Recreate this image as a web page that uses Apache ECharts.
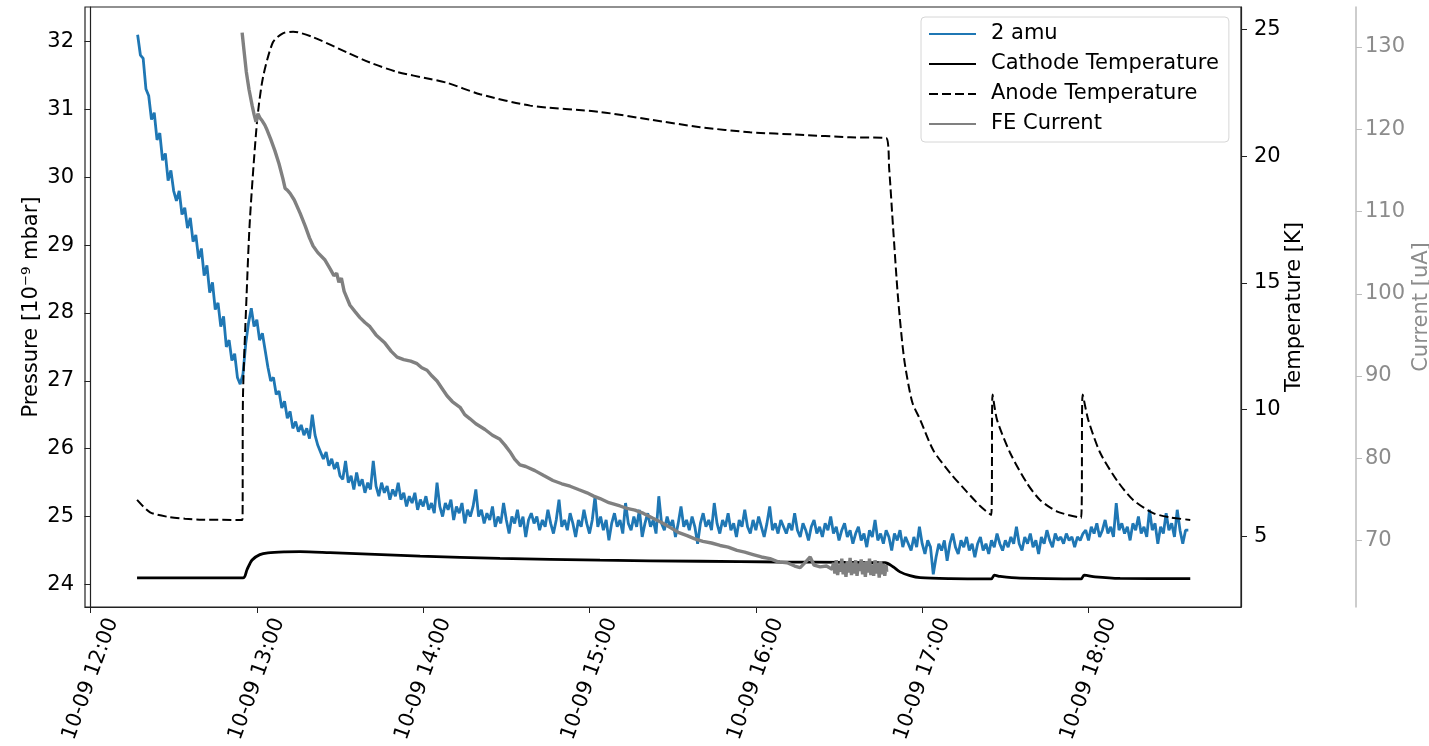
<!DOCTYPE html>
<html><head><meta charset="utf-8">
<script src="https://cdn.jsdelivr.net/npm/echarts@6/dist/echarts.min.js"></script>
<style>html,body{margin:0;padding:0;background:#fff}#c{width:1429px;height:746px}</style>
</head><body><div id="c"></div>
<script>
// ---- data (time in minutes after 10-09 12:00) ----
const dateLabel = '10-09';
const xTickHours = [12, 13, 14, 15, 16, 17, 18];
const pressureTicks = [24, 25, 26, 27, 28, 29, 30, 31, 32];
const tempTicks = [5, 10, 15, 20, 25];
const currentTicks = [70, 80, 90, 100, 110, 120, 130];

// 2 amu pressure [1e-9 mbar], one reading per minute starting at minute 17
const amuStartMinute = 17;
const amuPressure = [
 32.1,31.8,31.75,31.3,31.2,30.85,30.95,30.55,30.65,30.25,30.35,29.95,30.1,29.8,29.65,29.8,29.45,29.55,29.25,29.4,
 29.05,29.15,28.8,28.95,28.55,28.7,28.3,28.45,28.05,28.15,27.8,27.95,27.5,27.6,27.3,27.4,27.05,26.95,
 27.1,27.55,27.85,28.07,27.8,27.9,27.6,27.7,27.45,27.2,27.0,27.05,26.8,26.85,26.6,26.7,26.45,26.55,26.3,26.4,
 26.25,26.35,26.2,26.3,26.15,26.5,26.2,26.05,25.95,25.85,25.95,25.75,25.85,25.7,25.8,25.6,
 25.55,25.82,25.5,25.6,25.4,25.65,25.45,25.55,25.35,25.5,
 25.4,25.82,25.45,25.3,25.5,25.35,25.45,25.25,25.4,25.3,25.5,25.25,25.35,25.15,25.3,25.2,25.35,25.1,25.25,25.15,
 25.3,25.1,25.2,25.05,25.5,25.15,25.0,25.2,25.1,25.25,24.95,25.15,25.05,25.2,24.9,25.1,25.0,25.15,25.4,25.0,
 25.1,24.9,25.05,24.95,25.15,24.85,25.0,24.9,25.2,24.95,24.75,25.0,24.9,25.1,24.85,25.0,24.7,24.95,25.05,24.9,
 25.0,24.8,24.95,24.85,25.1,24.9,24.75,24.95,25.25,24.85,
 24.95,24.8,25.05,24.9,24.7,24.95,24.85,25.1,24.9,24.75,
 24.95,25.3,24.85,25.0,24.8,24.95,24.65,24.9,25.05,24.85,
 24.95,24.75,25.2,24.9,24.8,25.0,24.85,25.1,24.7,24.9,
 25.05,24.85,24.95,24.75,25.3,24.9,24.8,25.0,24.85,24.95,
 24.7,24.9,25.15,24.85,24.95,24.8,25.0,24.85,24.6,24.9,
 25.05,24.85,24.95,24.8,25.2,24.9,24.75,24.95,24.85,25.05,
 24.8,24.9,24.7,24.95,24.85,25.1,24.85,24.75,24.95,24.8,
 25.0,24.85,24.7,24.9,25.15,24.8,24.9,24.75,24.95,24.85,
 24.75,24.9,24.8,25.05,24.8,24.7,24.9,24.8,24.65,24.85,24.95,24.75,24.85,24.7,24.9,24.8,25.0,24.75,24.85,24.65,
 24.8,24.9,24.7,24.8,24.6,
 24.75,24.85,24.65,24.75,24.55,24.8,24.7,24.95,24.65,24.75,24.6,24.8,24.7,24.5,24.75,24.65,24.8,24.55,24.7,24.6,
 24.5,24.7,24.55,24.85,24.6,24.45,24.65,24.55,24.15,24.4,24.6,24.5,24.65,24.35,24.6,24.75,24.55,24.45,24.65,24.55,
 24.7,24.5,24.6,24.4,24.6,24.7,24.5,24.6,24.45,24.65,24.55,24.75,24.6,24.5,24.65,
 24.55,24.7,24.6,24.85,24.6,24.5,24.7,24.6,24.75,24.55,24.65,24.45,24.7,24.6,24.8,24.65,24.55,24.75,24.65,24.7,
 24.6,24.75,24.65,24.7,24.55,24.7,24.65,
 24.75,24.8,24.65,24.85,24.75,24.9,24.7,24.8,24.95,24.75,24.85,24.7,25.2,24.8,24.9,24.75,24.85,24.65,24.9,24.8,
 25.0,24.75,24.85,24.7,25.1,24.8,24.9,24.6,24.85,24.75,25.05,24.8,24.9,24.7,25.1,24.8,24.6,24.8,24.8
];

// Cathode temperature [K]: [minute, value]
const cathodeTemp = [
 [16.8,3.36],[55.0,3.36],[56.5,3.7],[58.3,4.07],[61.1,4.28],[64.0,4.35],[70.2,4.39],[75.6,4.40],[86.4,4.36],
 [118.9,4.22],[147.7,4.13],[183.8,4.06],[219.9,4.02],[248.7,3.99],[286.6,3.96],[289.5,3.8],[292.0,3.6],
 [295.6,3.45],[299.3,3.37],[310.1,3.33],[324.9,3.32],[326.0,3.47],[328.1,3.42],[335.3,3.35],[357.3,3.32],
 [358.4,3.47],[362.4,3.40],[371.4,3.34],[396.7,3.33]
];

// Anode temperature [K]: [minute, value]
const anodeTemp = [
 [16.8,6.44],[21.5,5.95],[28.0,5.77],[34.1,5.70],[40.2,5.66],[54.8,5.65],[55.0,10.5],[56.3,14.5],[57.5,17.5],
 [60.1,21.4],[62.2,23.1],[65.8,24.5],[69.4,24.85],[73.1,24.92],[80.3,24.7],[92.5,24.1],[100.8,23.7],
 [110.6,23.33],[122.5,23.05],[128.6,22.9],[140.5,22.45],[158.6,22.0],[183.8,21.75],[201.8,21.45],
 [219.9,21.15],[237.9,20.95],[255.9,20.85],[274.0,20.75],[287.0,20.72],[288.1,19.5],[289.5,17.2],
 [291.3,14.4],[293.5,12.0],[296.4,10.3],[299.3,9.6],[304.0,8.4],[310.1,7.5],[316.2,6.75],[320.9,6.2],
 [324.9,5.84],[325.4,10.6],[327.0,9.6],[331.7,8.3],[337.8,7.1],[342.5,6.44],[348.7,5.98],[357.3,5.73],
 [357.9,10.6],[359.9,9.6],[364.2,8.3],[370.3,7.2],[376.1,6.44],[383.3,5.92],[389.5,5.75],[396.7,5.65]
];

// FE current [uA]: [minute, value]
const feCurrent = [
 [54.7,131.75],[55.3,129.8],[56.2,127.0],[57.2,124.8],[58.3,122.9],[59.0,121.8],[59.7,120.9],[60.4,121.9],
 [61.1,121.4],[62.0,121.0],[62.9,120.5],[63.7,119.9],[65.0,118.8],[66.5,117.4],[68.0,115.8],[69.4,114.0],
 [70.2,112.8],[71.0,112.6],[72.0,112.2],[73.5,111.4],[75.6,109.8],[77.5,108.2],[79.0,106.8],[80.3,105.8],
 [82.0,105.0],[84.6,104.1],[86.5,103.0],[87.8,102.2],[88.8,102.5],[89.6,101.4],[90.5,101.9],[91.5,100.3],
 [93.6,98.6],[95.5,97.8],[97.2,97.1],[99.0,96.5],[100.8,96.0],[103.0,95.0],[106.2,94.0],[108.5,93.0],
 [110.6,92.3],[113.0,92.0],[115.5,91.8],[117.8,91.5],[119.5,91.0],[121.4,90.7],[123.2,90.0],[125.0,89.4],
 [127.0,88.4],[128.6,87.6],[130.5,86.9],[133.3,86.2],[135.0,85.3],[136.9,84.8],[139.0,84.2],[142.3,83.5],
 [145.0,82.8],[147.7,82.3],[149.5,81.6],[151.3,80.8],[153.0,79.9],[154.9,79.2],[157.0,79.0],[160.3,78.5],
 [163.5,77.9],[166.8,77.3],[170.0,76.9],[173.0,76.6],[176.0,76.2],[179.1,75.8],[181.5,75.4],[183.8,75.1],
 [187.0,74.6],[191.0,74.2],[193.5,73.9],[196.4,73.7],[199.5,73.3],[202.9,72.7],[206.0,72.2],[209.0,71.6],
 [212.0,71.0],[215.2,70.6],[218.0,70.2],[220.9,69.9],[224.0,69.7],[227.1,69.4],[230.0,69.2],[233.2,68.8],
 [236.0,68.6],[239.0,68.3],[242.0,68.0],[245.1,67.8],[248.0,67.4],[251.3,67.3],[254.0,66.9],[256.0,66.7],
 [258.0,67.4],[259.6,68.0],[261.0,67.0],[263.2,66.8],[265.5,66.9],[267.5,66.5],
 [268.0,67.3],[268.5,66.0],[269.0,67.6],[269.5,65.8],[270.0,67.1],[270.5,66.2],[271.0,67.8],[271.5,65.9],
 [272.0,67.2],[272.5,65.6],[273.0,67.5],[273.5,66.1],[274.0,67.9],[274.5,65.8],[275.0,67.3],[275.5,66.0],
 [276.0,67.6],[276.5,65.7],[277.0,67.2],[277.5,66.3],[278.0,67.7],[278.5,65.9],[279.0,67.4],[279.5,65.6],
 [280.0,67.5],[280.5,66.1],[281.0,67.8],[281.5,65.8],[282.0,67.1],[282.5,65.7],[283.0,67.6],[283.5,66.0],
 [284.0,67.3],[284.5,65.5],[285.0,67.5],[285.5,65.9],[286.0,67.2],[286.5,65.7],[287.0,67.0],[287.2,66.2]
];

// ---- build ----
const FONT = 'DejaVu Sans';
const FS = 21;
const pad = n => (n < 10 ? '0' : '') + n;
const amuData = amuPressure.map((v, i) => [amuStartMinute + i, v]);
const xTicks = xTickHours.map(h => (h - 12) * 60);
const fmtMinute = m => { const tot = 12 * 60 + Math.round(m); return dateLabel + ' ' + pad(Math.floor(tot / 60)) + ':' + pad(tot % 60); };

const chart = echarts.init(document.getElementById('c'), null, { renderer: 'canvas' });
chart.setOption({
  animation: false,
  backgroundColor: '#fff',
  grid: { left: 85, right: 188, top: 7, bottom: 139, containLabel: false, outerBoundsMode: 'none',
          show: true, borderColor: '#222', borderWidth: 1.2, backgroundColor: 'transparent' },
  legend: {
    orient: 'vertical', left: 921, top: 17,
    padding: [5, 10, 6, 7], itemGap: 6, itemWidth: 47, itemHeight: 14,
    itemStyle: { opacity: 0 },
    backgroundColor: 'rgba(255,255,255,0.85)', borderColor: '#d6d6d6', borderWidth: 1, borderRadius: 4,
    textStyle: { fontFamily: FONT, fontSize: FS, color: '#000', lineHeight: 24, padding: [0, 0, 0, 10] },
    data: ['2 amu', 'Cathode Temperature', 'Anode Temperature', 'FE Current']
  },
  xAxis: {
    type: 'value', min: -1.98, max: 415.0,
    splitLine: { show: false },
    axisLine: { show: true, onZero: false, lineStyle: { color: '#222', width: 1.2 } },
    axisTick: { show: true, length: 6, lineStyle: { color: '#222' }, customValues: xTicks },
    axisLabel: {
      customValues: xTicks, rotate: 70, margin: 72, align: 'center', verticalAlign: 'middle',
      fontFamily: FONT, fontSize: FS, color: '#000',
      formatter: v => fmtMinute(v)
    }
  },
  yAxis: [
    {
      type: 'value', position: 'left', min: 23.668, max: 32.508, splitLine: { show: false },
      name: 'Pressure [10⁻⁹ mbar]', nameLocation: 'middle', nameGap: 43, nameRotate: 90, nameMoveOverlap: false,
      nameTextStyle: { fontFamily: FONT, fontSize: FS, color: '#000' },
      axisLine: { show: true, lineStyle: { color: '#222', width: 1.2 } },
      axisTick: { show: true, length: 6, lineStyle: { color: '#222' }, customValues: pressureTicks },
      axisLabel: { customValues: pressureTicks, margin: 11, fontFamily: FONT, fontSize: FS, color: '#000' }
    },
    {
      type: 'value', position: 'right', min: 2.214, max: 25.892, splitLine: { show: false },
      name: 'Temperature [K]', nameLocation: 'middle', nameGap: 43, nameRotate: 90, nameMoveOverlap: false,
      nameTextStyle: { fontFamily: FONT, fontSize: FS, color: '#000' },
      axisLine: { show: true, lineStyle: { color: '#222', width: 1.2 } },
      axisTick: { show: true, length: 6, lineStyle: { color: '#222' }, customValues: tempTicks },
      axisLabel: { customValues: tempTicks, margin: 13, fontFamily: FONT, fontSize: FS, color: '#000' }
    },
    {
      type: 'value', position: 'right', offset: 115, min: 61.92, max: 134.86, splitLine: { show: false },
      name: 'Current [uA]', nameLocation: 'middle', nameGap: 55, nameRotate: 90, nameMoveOverlap: false,
      nameTextStyle: { fontFamily: FONT, fontSize: FS, color: '#8c8c8c' },
      axisLine: { show: true, lineStyle: { color: '#bdbdbd', width: 1.5 } },
      axisTick: { show: true, length: 6, lineStyle: { color: '#bdbdbd' }, customValues: currentTicks },
      axisLabel: { customValues: currentTicks, margin: 9, fontFamily: FONT, fontSize: FS, color: '#8c8c8c' }
    }
  ],
  series: [
    { name: '2 amu', type: 'line', yAxisIndex: 0, data: amuData, symbol: 'none',
      lineStyle: { color: '#1f77b4', width: 2.8 }, itemStyle: { color: '#1f77b4' }, z: 2 },
    { name: 'Cathode Temperature', type: 'line', yAxisIndex: 1, data: cathodeTemp, symbol: 'none', smooth: 0.3,
      lineStyle: { color: '#000', width: 2.8 }, itemStyle: { color: '#000' }, z: 3 },
    { name: 'Anode Temperature', type: 'line', yAxisIndex: 1, data: anodeTemp, symbol: 'none', smooth: 0.25,
      lineStyle: { color: '#000', width: 2, type: [9, 4] }, itemStyle: { color: '#000' }, z: 4 },
    { name: 'FE Current', type: 'line', yAxisIndex: 2, data: feCurrent, symbol: 'none',
      lineStyle: { color: '#808080', width: 3.4 }, itemStyle: { color: '#808080' }, z: 5 }
  ]
});
</script></body></html>
